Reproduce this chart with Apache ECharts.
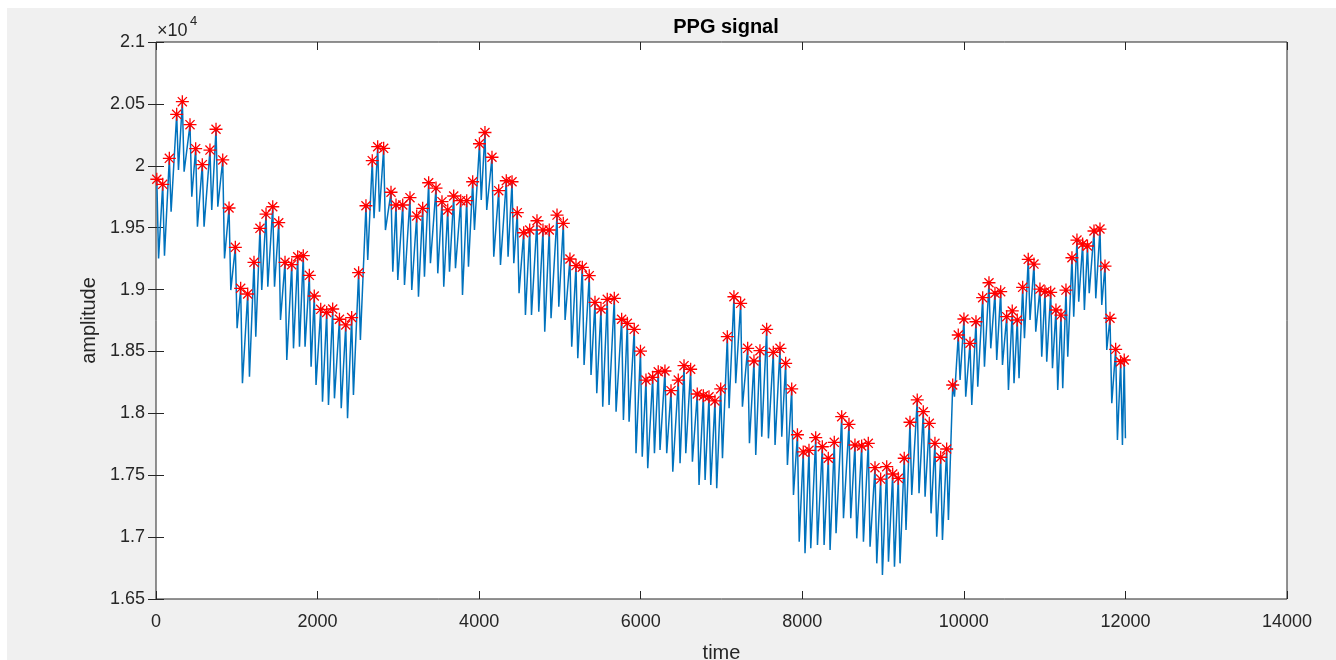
<!DOCTYPE html>
<html>
<head>
<meta charset="utf-8">
<script src="https://cdn.jsdelivr.net/npm/echarts@6/dist/echarts.min.js"></script>
<style>
html,body{margin:0;padding:0;background:#fff;width:1336px;height:660px;overflow:hidden;}
#bg{position:absolute;left:7px;top:8px;right:0;bottom:0;background:#f0f0f0;}
#chart{position:absolute;left:0;top:0;width:1336px;height:660px;}
</style>
</head>
<body>
<div id="bg"></div>
<div id="chart"></div>
<script>
// Detected peaks (red stars): time and amplitude
const peakT = [10,83,165,256,326,421,491,573,668,743,826,904,982,1048,1135,1213,1287,1362,1445,1519,
1597,1680,1754,1823,1898,1959,2039,2113,2187,2271,2349,2422,2508,2599,2677,2744,2818,2909,2971,3054,
3144,3227,3301,3375,3466,3540,3611,3685,3772,3846,3920,4004,4072,4159,4242,4336,4407,4472,4551,4626,
4716,4790,4868,4964,5042,5124,5199,5277,5363,5434,5508,5586,5673,5764,5834,5920,5997,6065,6148,6217,
6300,6375,6465,6536,6618,6700,6775,6845,6919,6990,7072,7154,7237,7324,7402,7476,7559,7641,7724,7794,
7869,7940,8012,8083,8166,8248,8322,8396,8488,8578,8652,8735,8817,8900,8970,9045,9119,9188,9262,9333,
9423,9498,9572,9642,9713,9787,9862,9931,10001,10076,10150,10233,10311,10385,10456,10530,10599,10661,10728,10797,
10868,10942,11004,11075,11140,11202,11264,11338,11400,11470,11530,11611,11685,11747,11809,11879,11941,11985];
const peakV = [19891,19850,20060,20416,20518,20332,20138,20009,20127,20295,20047,19659,19341,19010,18964,19220,19495,19610,19669,19540,
19220,19201,19265,19274,19115,18948,18840,18815,18843,18760,18714,18774,19136,19677,20041,20154,20141,19786,19683,19683,
19742,19594,19656,19863,19820,19710,19643,19756,19718,19718,19871,20178,20269,20069,19799,19879,19871,19621,19459,19481,
19556,19481,19481,19602,19535,19247,19194,19180,19112,18897,18843,18921,18929,18760,18727,18679,18502,18269,18291,18336,
18342,18183,18269,18385,18356,18156,18142,18134,18100,18197,18619,18942,18889,18525,18423,18506,18679,18493,18525,18404,
18197,17827,17688,17701,17803,17730,17637,17766,17973,17911,17744,17736,17758,17561,17469,17569,17510,17475,17637,17928,
18108,18013,17919,17758,17645,17712,18229,18633,18762,18566,18740,18934,19055,18970,18983,18781,18827,18754,19018,19244,
19206,19004,18983,18978,18835,18794,18996,19257,19400,19368,19352,19473,19489,19190,18768,18517,18417,18431];
// Signal minima following each peak: time and amplitude
const troughT = [32,105,187,278,348,443,513,595,690,765,848,926,1004,1070,1157,1235,1309,1384,1467,1541,
1619,1702,1776,1845,1920,1981,2061,2135,2209,2293,2371,2444,2530,2621,2699,2766,2840,2931,2993,3076,
3166,3249,3323,3397,3488,3562,3633,3707,3794,3868,3942,4026,4094,4181,4264,4358,4429,4494,4573,4648,
4738,4812,4890,4986,5064,5146,5221,5299,5385,5456,5530,5608,5695,5786,5856,5942,6019,6087,6170,6239,
6322,6397,6487,6558,6640,6722,6797,6867,6941,7012,7094,7176,7259,7346,7424,7498,7581,7663,7746,7816,
7891,7962,8034,8105,8188,8270,8344,8418,8510,8600,8674,8757,8839,8922,8992,9067,9141,9210,9284,9355,
9445,9520,9594,9664,9735,9809,9884,9953,10023,10098,10172,10255,10333,10407,10478,10552,10621,10683,10750,10819,
10890,10964,11026,11097,11162,11224,11286,11360,11422,11492,11552,11633,11707,11769,11831,11901,11963,12000];
const troughV = [19252,19274,19629,19966,19952,19750,19508,19508,19643,19669,19252,18996,18687,18243,18296,18619,18996,19023,19023,18754,
18431,18525,18538,18538,18377,18229,18094,18067,18121,18041,17960,18148,18592,19239,19576,19629,19481,19144,19077,19037,
18996,18942,19104,19212,19131,19023,19144,19172,18956,19185,19481,19724,19643,19265,19198,19265,19212,18970,18794,18794,
18821,18660,18768,18862,18754,18538,18445,18390,18310,18162,18054,18067,18013,17946,17933,17677,17650,17556,17677,17704,
17677,17528,17596,17677,17609,17421,17461,17421,17394,17637,18041,18243,18054,17758,17663,17811,17798,17744,17811,17583,
17340,16963,16869,16910,16936,16936,16896,17031,17152,17152,16990,16963,16923,16788,16694,16801,16761,16788,17057,17340,
17354,17327,17192,17003,16977,17138,18134,18269,18134,18067,18215,18377,18525,18431,18390,18189,18243,18283,18606,18754,
18660,18458,18417,18364,18189,18202,18458,18781,18902,18835,18970,18929,18875,18512,18081,17785,17744,17798];

const xMin = 0, xMax = 14000, xStep = 2000;
const yMin = 16500, yMax = 21000, yStep = 500;
const titleText = 'PPG signal', xName = 'time', yName = 'amplitude';

const signal = [];
for (let i = 0; i < peakT.length; i++) {
  signal.push([peakT[i], peakV[i]]);
  signal.push([troughT[i], troughV[i]]);
}
const peaks = peakT.map((t, i) => [t, peakV[i]]);

const FONT = '"Liberation Sans", Arial, Helvetica, sans-serif';
const AX = '#262626';
const mkTick = () => ({show: true, inside: true, length: 8, lineStyle: {color: AX, width: 1}});
const labelStyle = () => ({color: AX, fontSize: 18, fontFamily: FONT});

const chart = echarts.init(document.getElementById('chart'), null, {renderer: 'canvas'});
chart.setOption({
  animation: false,
  backgroundColor: 'transparent',
  title: {
    text: titleText, left: 721, top: 12, textAlign: 'center',
    textStyle: {fontSize: 20, fontWeight: 'bold', color: '#000', fontFamily: FONT}
  },
  grid: {left: 156, top: 42, right: 49, bottom: 61, show: true, containLabel: false,
         outerBoundsMode: 'none',
         backgroundColor: '#ffffff', borderColor: AX, borderWidth: 1},
  xAxis: [
    {type: 'value', min: xMin, max: xMax, interval: xStep, position: 'bottom',
     axisLine: {show: false}, axisTick: mkTick(), splitLine: {show: false},
     axisLabel: Object.assign({margin: 14, formatter: v => String(v)}, labelStyle()),
     name: xName, nameLocation: 'middle', nameGap: 44,
     nameTextStyle: {color: AX, fontSize: 20, fontFamily: FONT}},
    {type: 'value', min: xMin, max: xMax, interval: xStep, position: 'top',
     axisLine: {show: false}, axisTick: mkTick(), splitLine: {show: false},
     axisLabel: {show: false}}
  ],
  yAxis: [
    {type: 'value', min: yMin, max: yMax, interval: yStep, position: 'left',
     axisLine: {show: false}, axisTick: mkTick(), splitLine: {show: false},
     axisLabel: Object.assign({margin: 11, formatter: v => String(parseFloat((v / 10000).toFixed(3)))}, labelStyle()),
     name: yName, nameLocation: 'middle', nameGap: 49, nameRotate: 90,
     nameTextStyle: {color: AX, fontSize: 20, fontFamily: FONT}},
    {type: 'value', min: yMin, max: yMax, interval: yStep, position: 'right',
     axisLine: {show: false}, axisTick: mkTick(), splitLine: {show: false},
     axisLabel: {show: false}}
  ],
  graphic: [
    {type: 'text', left: 157, top: 22, z: 10,
     style: {text: '×10', fontSize: 18, fill: AX, fontFamily: FONT}},
    {type: 'text', left: 190, top: 15, z: 10,
     style: {text: '4', fontSize: 13, fill: AX, fontFamily: FONT}}
  ],
  series: [
    {type: 'line', data: signal, xAxisIndex: 0, yAxisIndex: 0, showSymbol: false,
     symbol: 'none', clip: true,
     lineStyle: {color: '#0072BD', width: 1.5}, z: 2},
    {type: 'scatter', data: peaks, xAxisIndex: 0, yAxisIndex: 0,
     symbol: 'path://M5,0L5,10M0,5L10,5M1.5,1.5L8.5,8.5M1.5,8.5L8.5,1.5',
     symbolSize: 13,
     itemStyle: {color: 'rgba(0,0,0,0)', borderColor: '#ff0000', borderWidth: 1.3, opacity: 1},
     z: 3}
  ]
});
</script>
</body>
</html>
